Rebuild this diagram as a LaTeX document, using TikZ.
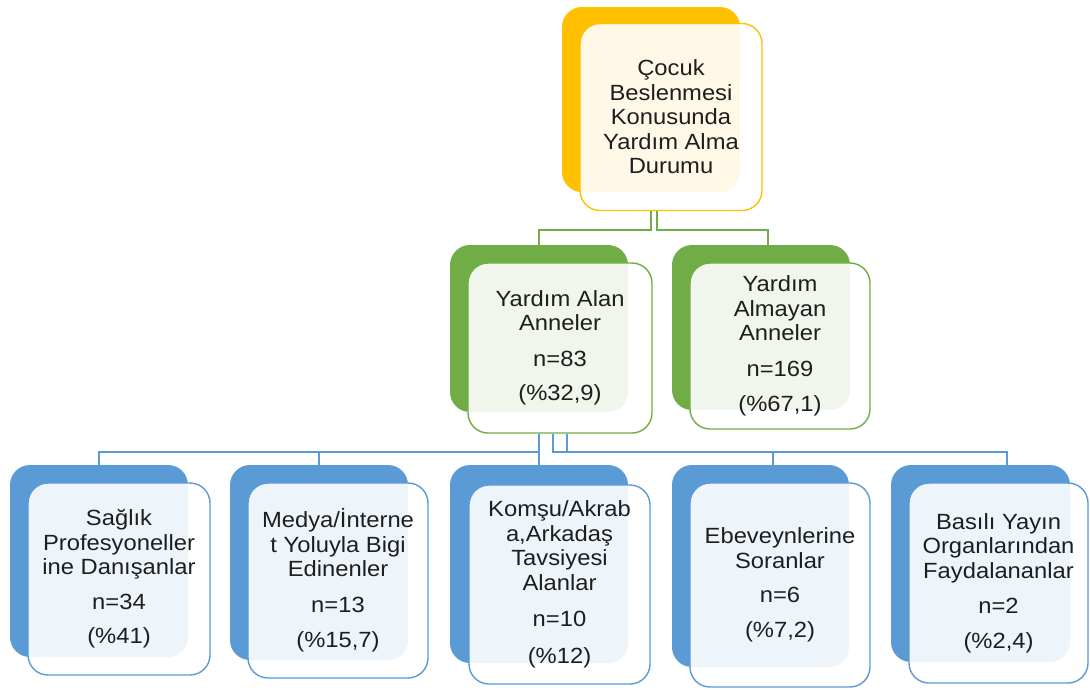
\documentclass[tikz,border=0pt]{standalone}
\usepackage{fontspec}
\setmainfont{Liberation Sans}[FakeStretch=1.08]
\definecolor{cOr}{HTML}{FFC000}
\definecolor{cGr}{HTML}{70AD47}
\definecolor{cBl}{HTML}{5B9BD5}
\definecolor{cTx}{HTML}{1E1E1E}
\begin{document}
\begin{tikzpicture}[x=1pt,y=-1pt,
  backbox/.style={fill=#1, draw=none, rounded corners=20pt, inner sep=0pt},
  frontbox/.style={draw=#1, line width=1.4pt, fill=white, fill opacity=0.9, text opacity=1,
    rounded corners=20pt, inner sep=0pt, align=center,
    font=\fontsize{22}{24.5}\selectfont, text=cTx},
  conn/.style={draw=#1, line width=1.6pt}]
\useasboundingbox (0,0) rectangle (1090,689);
\fill[white] (0,0) rectangle (1090,689);

% top level
\node[backbox=cOr, minimum width=178pt, minimum height=185pt] (topB) at (651,99.5) {};
\node[frontbox=cOr, minimum width=182pt, minimum height=187pt] (top) at (671,117)
  {Çocuk\\Beslenmesi\\Konusunda\\Yardım Alma\\Durumu};

% second level
\node[backbox=cGr, minimum width=178pt, minimum height=167pt] (gaB) at (539,328.5) {};
\node[frontbox=cGr, minimum width=184pt, minimum height=170pt] (ga) at (560,348)
  {Yardım Alan\\Anneler\\[11pt]n=83\\[10pt](\%32,9)};
\node[backbox=cGr, minimum width=178pt, minimum height=165pt] (ggB) at (761,327.5) {};
\node[frontbox=cGr, minimum width=180pt, minimum height=166pt] (gg) at (780,346)
  {Yardım\\Almayan\\Anneler\\[11pt]n=169\\[11pt](\%67,1)};

% third level
\node[backbox=cBl, minimum width=178pt, minimum height=192pt] (b1B) at (99,561) {};
\node[frontbox=cBl, minimum width=182pt, minimum height=192pt] (b1) at (119,579)
  {Sağlık\\Profesyoneller\\ine Danışanlar\\[10pt]n=34\\[10pt](\%41)};
\node[backbox=cBl, minimum width=178pt, minimum height=195pt] (b2B) at (319,562.5) {};
\node[frontbox=cBl, minimum width=180pt, minimum height=195pt] (b2) at (338,580.5)
  {Medya/İnterne\\t Yoluyla Bigi\\Edinenler\\[11pt]n=13\\[11pt](\%15,7)};
\node[backbox=cBl, minimum width=178pt, minimum height=198pt] (b3B) at (539,564) {};
\node[frontbox=cBl, minimum width=181pt, minimum height=199pt] (b3) at (559.5,584.5)
  {Komşu/Akrab\\a,Arkadaş\\Tavsiyesi\\Alanlar\\[12pt]n=10\\[12pt](\%12)};
\node[backbox=cBl, minimum width=177pt, minimum height=202pt] (b4B) at (760.5,566) {};
\node[frontbox=cBl, minimum width=180pt, minimum height=204pt] (b4) at (780,585)
  {Ebeveynlerine\\Soranlar\\[10pt]n=6\\[10pt](\%7,2)};
\node[backbox=cBl, minimum width=179pt, minimum height=197pt] (b5B) at (980.5,563.5) {};
\node[frontbox=cBl, minimum width=179pt, minimum height=200pt] (b5) at (998.5,583)
  {Basılı Yayın\\Organlarından\\Faydalananlar\\[11pt]n=2\\[10pt](\%2,4)};

% connectors top -> second
\draw[conn=cGr] (top.south -| topB.south) -- ++(0,19) -| (gaB.north);
\draw[conn=cGr] ([xshift=6pt]top.south -| topB.south) -- ++(0,19) -| ([xshift=7pt]ggB.north);

% connectors second -> third
\draw[conn=cBl] (ga.south -| gaB.south) -- ++(0,18) -| (b1B.north);
\draw[conn=cBl] (ga.south -| gaB.south) -- ++(0,18) -| (b2B.north);
\draw[conn=cBl] (ga.south -| gaB.south) -- (b3B.north);
\draw[conn=cBl] ([xshift=14pt]ga.south -| gaB.south) -- ++(0,18) -| ([xshift=12.5pt]b4B.north);
\draw[conn=cBl] ([xshift=28pt]ga.south -| gaB.south) -- ++(0,18) -| ([xshift=26.5pt]b5B.north);
\end{tikzpicture}
\end{document}
